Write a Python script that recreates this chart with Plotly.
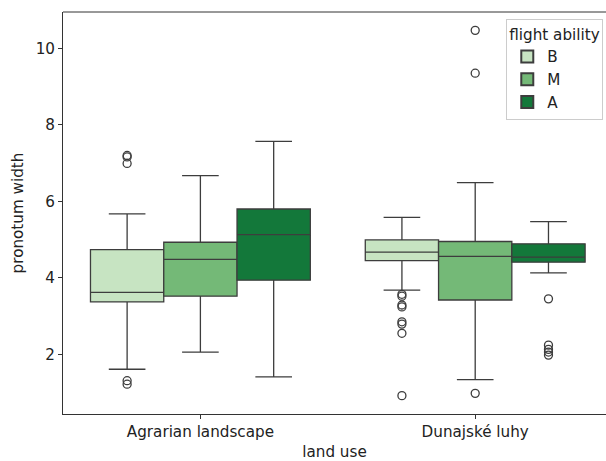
import plotly.graph_objects as go

# ---- data ----
land_use = ["Agrarian landscape", "Dunajské luhy"]
flight = ["B", "M", "A"]

# per flight ability: [Agrarian, Dunajské]
q1 = {"B": [3.37, 4.45], "M": [3.52, 3.42], "A": [3.94, 4.41]}
median = {"B": [3.62, 4.67], "M": [4.48, 4.56], "A": [5.13, 4.54]}
q3 = {"B": [4.74, 4.99], "M": [4.93, 4.95], "A": [5.80, 4.89]}
lower = {"B": [1.61, 3.68], "M": [2.06, 1.34], "A": [1.41, 4.13]}
upper = {"B": [5.67, 5.58], "M": [6.67, 6.49], "A": [7.57, 5.47]}

outliers = {
    "B": [[7.20, 7.16, 6.99, 1.31, 1.22],
          [3.57, 3.52, 3.29, 3.24, 2.85, 2.79, 2.55, 0.92]],
    "M": [[],
          [10.47, 9.35, 0.98]],
    "A": [[],
          [3.45, 2.24, 2.13, 2.06, 1.98]],
}

colors = {"B": "#c7e4c2", "M": "#74b977", "A": "#13783a"}
edge = "#3d3d3d"

n_hue = len(flight)
total_w = 0.8
box_w = total_w / n_hue

fig = go.Figure()
for h, f in enumerate(flight):
    off = -total_w / 2 + box_w * (h + 0.5)
    xs = [i + off for i in range(len(land_use))]
    fig.add_trace(go.Box(
        x=xs, q1=q1[f], median=median[f], q3=q3[f],
        lowerfence=lower[f], upperfence=upper[f],
        width=box_w, whiskerwidth=0.5,
        fillcolor=colors[f], line=dict(color=edge, width=1.3),
        name=f, boxpoints=False, hoverinfo="skip",
    ))
for h, f in enumerate(flight):
    off = -total_w / 2 + box_w * (h + 0.5)
    ox, oy = [], []
    for i, vals in enumerate(outliers[f]):
        ox += [i + off] * len(vals)
        oy += vals
    fig.add_trace(go.Scatter(
        x=ox, y=oy, mode="markers", showlegend=False,
        marker=dict(symbol="circle-open", size=8, color=edge,
                    line=dict(width=1.3, color=edge)),
        hoverinfo="skip",
    ))

font = "DejaVu Sans"
fs = 15.2
fig.update_layout(
    width=606, height=461,
    margin=dict(l=63, r=0, t=12, b=47),
    plot_bgcolor="white", paper_bgcolor="white",
    font=dict(family=font, size=fs, color="#222"),
    showlegend=True,
    legend=dict(
        title=dict(text="flight ability", side="top", font=dict(size=fs)),
        x=0.995, y=0.982, xanchor="right", yanchor="top",
        bgcolor="rgba(255,255,255,0.8)", bordercolor="#cccccc", borderwidth=1,
        font=dict(size=fs), tracegroupgap=0, itemsizing="constant",
    ),
    xaxis=dict(
        range=[-0.5, 1.476], tickvals=list(range(len(land_use))),
        ticktext=land_use, showgrid=False, zeroline=False,
        showline=True, linecolor="#333", linewidth=1,
        ticks="outside", ticklen=4, tickcolor="#333",
        tickfont=dict(size=fs),
        title=dict(text="land use", standoff=7, font=dict(size=fs)),
    ),
    yaxis=dict(
        range=[0.44, 10.95], tickvals=[2, 4, 6, 8, 10],
        showgrid=False, zeroline=False,
        showline=True, linecolor="#333", linewidth=1,
        ticks="outside", ticklen=4, tickcolor="#333",
        tickfont=dict(size=fs),
        title=dict(text="pronotum width", standoff=8, font=dict(size=fs)),
    ),
    shapes=[dict(type="line", xref="paper", yref="paper",
                 x0=0, x1=1.05, y0=1, y1=1,
                 line=dict(color="#333", width=1))],
)

fig.write_html("out.html")
